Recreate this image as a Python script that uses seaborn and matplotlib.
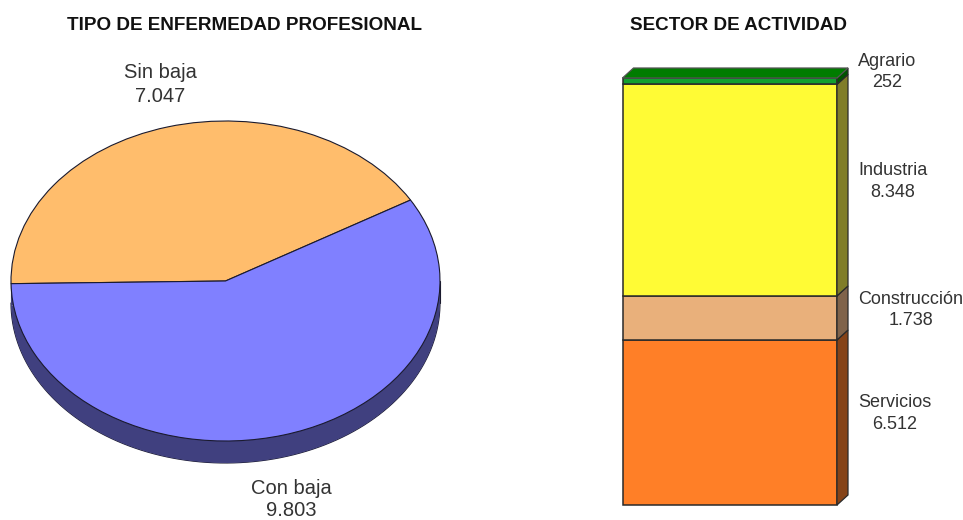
import matplotlib
matplotlib.use('Agg')
import matplotlib.pyplot as plt
import numpy as np
import seaborn as sns

# datos del grafico
tipo_labels = ['Sin baja', 'Con baja']
tipo_values = [7047, 9803]

sector_labels = ['Servicios', 'Construcción', 'Industria', 'Agrario']
sector_values = [6512, 1738, 8348, 252]

tipo_colors = ['#FFBD6C', '#8080FF']
tipo_dark = '#40407F'
sector_front = ['#FF7F27', '#E9B07B', '#FFFB35', '#12A02F']
sector_side = ['#854318', '#80634A', '#807D28', '#005400']
sector_top = '#007C00'
edge = '#2A2A2A'

W, H = 963, 520


def rect_px(left, top, right, bottom):
    return [left / W, 1 - bottom / H, (right - left) / W, (bottom - top) / H]


def label_px(x, y, text, **kw):
    fig.text(x / W, 1 - y / H, text, ha='center', va='center', **kw)


def fmt(v):
    return f'{v:,}'.replace(',', '.')


sns.set_theme(style='white')
plt.rcParams['font.family'] = ['Liberation Sans', 'DejaVu Sans']

fig = plt.figure(figsize=(W / 100, H / 100), dpi=100, facecolor='white')

# tarta con efecto 3D
ax_pie = fig.add_axes(rect_px(11, 121, 440, 441))
depth = 22 / 160
ax_pie.pie(tipo_values, colors=[tipo_dark, tipo_dark], center=(0, -depth), radius=1,
           startangle=30.4, wedgeprops={'linewidth': 0}, frame=False)
ax_pie.pie(tipo_values, colors=tipo_colors, radius=1, startangle=30.4,
           wedgeprops={'linewidth': 0.8, 'edgecolor': '#1A1A2E'})
ax_pie.fill_between([-1, 1], -depth, 0, color=tipo_dark, linewidth=0, zorder=0)
ax_pie.plot([-1, -1], [-depth, 0], color='#1A1A2E', lw=0.8, zorder=0.5, clip_on=False)
ax_pie.plot([1, 1], [-depth, 0], color='#1A1A2E', lw=0.8, zorder=0.5, clip_on=False)
th = np.linspace(np.pi, 2 * np.pi, 200)
ax_pie.plot(np.cos(th), np.sin(th) - depth, color='#1A1A2E', lw=0.8, zorder=0.5, clip_on=False)
ax_pie.set_aspect('auto')
ax_pie.set_xlim(-1, 1)
ax_pie.set_ylim(-1, 1)
ax_pie.axis('off')
for art in ax_pie.get_children():
    art.set_clip_on(False)

# barra apilada con caras laterales
total = sum(sector_values)
ax_bar = fig.add_axes(rect_px(622.5, 78, 837, 505))
dx = 11 / 214.5
dy = 10 / 427 * total
bottom = 0
for val, front, side in zip(sector_values, sector_front, sector_side):
    sns.barplot(x=[0.5], y=[val], bottom=bottom, width=1, color=front, saturation=1,
                native_scale=True, edgecolor=edge, linewidth=1.1, ax=ax_bar, clip_on=False)
    ax_bar.fill([1, 1 + dx, 1 + dx, 1],
                [bottom, bottom + dy, bottom + val + dy, bottom + val],
                facecolor=side, edgecolor=edge, linewidth=0.9, clip_on=False)
    bottom += val
ax_bar.fill([0, dx, 1 + dx, 1], [total, total + dy, total + dy, total],
            facecolor=sector_top, edgecolor='#555555', linewidth=0.9, clip_on=False)
ax_bar.set_xlim(0, 1)
ax_bar.set_ylim(0, total)
ax_bar.set_xlabel('')
ax_bar.set_ylabel('')
ax_bar.axis('off')

# titulos
title_kw = dict(fontsize=13.55, fontweight='bold', color='#111111')
label_px(244.5, 26, 'TIPO DE ENFERMEDAD PROFESIONAL', **title_kw)
label_px(738.5, 26, 'SECTOR DE ACTIVIDAD', **title_kw)

# etiquetas
pie_kw = dict(fontsize=14.5, color='#333333', linespacing=1.3)
txt_kw = dict(fontsize=13, color='#333333', linespacing=1.35)
label_px(160, 84.5, f'{tipo_labels[0]}\n{fmt(tipo_values[0])}', **pie_kw)
label_px(291, 499, f'{tipo_labels[1]}\n{fmt(tipo_values[1])}', fontsize=14.5, color='#333333', linespacing=1.2)
label_px(895, 413.5, f'{sector_labels[0]}\n{fmt(sector_values[0])}', **txt_kw)
label_px(911, 310, f'{sector_labels[1]}\n{fmt(sector_values[1])}', **txt_kw)
label_px(893, 181.5, f'{sector_labels[2]}\n{fmt(sector_values[2])}', **txt_kw)
label_px(887, 72, f'{sector_labels[3]}\n{fmt(sector_values[3])}', **txt_kw)

fig.savefig('out.png', dpi=100)
